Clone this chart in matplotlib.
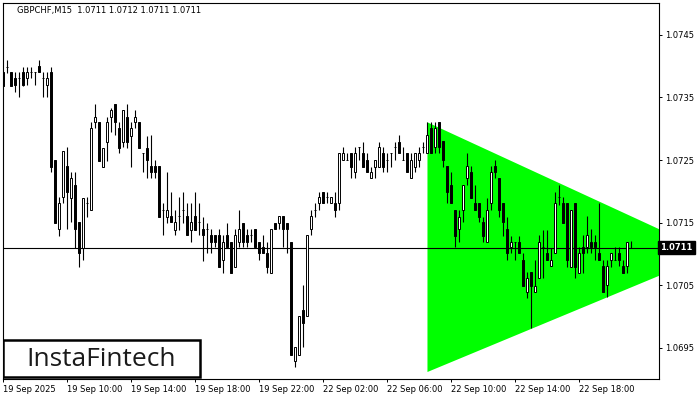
import matplotlib
matplotlib.use("Agg")
import matplotlib.pyplot as plt
import matplotlib.patches as patches
import numpy as np

# GBPCHF M15 bars, 19 Sep 06:00 .. 22 Sep 21:15 (one entry per bar)
opens = [
    1.07391, 1.07399, 1.07391, 1.07381, 1.07381, 1.07391, 1.07381, 1.07391, 1.07391, 1.07400,
    1.07381, 1.07370, 1.07391, 1.07250, 1.07140, 1.07191, 1.07240, 1.07189, 1.07210, 1.07151,
    1.07109, 1.07181, 1.07170, 1.07311, 1.07311, 1.07239, 1.07279, 1.07319, 1.07340, 1.07301,
    1.07279, 1.07319, 1.07288, 1.07311, 1.07311, 1.07261, 1.07269, 1.07240, 1.07240, 1.07240,
    1.07170, 1.07159, 1.07160, 1.07138, 1.07160, 1.07170, 1.07160, 1.07138, 1.07160, 1.07151,
    1.07140, 1.07140, 1.07130, 1.07130, 1.07130, 1.07090, 1.07130, 1.07119, 1.07079, 1.07119,
    1.07149, 1.07130, 1.07130, 1.07140, 1.07119, 1.07111, 1.07101, 1.07069, 1.07149, 1.07149,
    1.07160, 1.07149, 1.07119, 1.06928, 1.06938, 1.07010, 1.07000, 1.07140, 1.07170, 1.07181,
    1.07199, 1.07191, 1.07181, 1.07181, 1.07181, 1.07250, 1.07250, 1.07261, 1.07231, 1.07271,
    1.07261, 1.07250, 1.07221, 1.07239, 1.07239, 1.07261, 1.07250, 1.07261, 1.07271, 1.07279,
    1.07250, 1.07261, 1.07221, 1.07239, 1.07250, 1.07271, 1.07261, 1.07301, 1.07271, 1.07311,
    1.07280, 1.07240, 1.07210, 1.07170, 1.07140, 1.07170, 1.07221, 1.07231, 1.07181, 1.07181,
    1.07151, 1.07119, 1.07181, 1.07240, 1.07221, 1.07181, 1.07140, 1.07111, 1.07119, 1.07119,
    1.07090, 1.07039, 1.07071, 1.07039, 1.07061, 1.07111, 1.07101, 1.07080, 1.07101, 1.07191,
    1.07181, 1.07181, 1.07079, 1.07181, 1.07069, 1.07111, 1.07111, 1.07119, 1.07119, 1.07101,
    1.07080, 1.07050, 1.07090, 1.07090, 1.07101, 1.07080, 1.07080, 1.07110,
]
highs = [
    1.07391, 1.07410, 1.07391, 1.07391, 1.07391, 1.07399, 1.07399, 1.07399, 1.07391, 1.07410,
    1.07391, 1.07391, 1.07399, 1.07250, 1.07191, 1.07264, 1.07271, 1.07231, 1.07231, 1.07151,
    1.07189, 1.07191, 1.07311, 1.07340, 1.07311, 1.07269, 1.07319, 1.07333, 1.07340, 1.07311,
    1.07330, 1.07340, 1.07311, 1.07330, 1.07311, 1.07261, 1.07288, 1.07290, 1.07250, 1.07240,
    1.07181, 1.07231, 1.07199, 1.07170, 1.07191, 1.07199, 1.07181, 1.07181, 1.07199, 1.07181,
    1.07159, 1.07149, 1.07140, 1.07130, 1.07140, 1.07130, 1.07149, 1.07119, 1.07140, 1.07170,
    1.07149, 1.07140, 1.07140, 1.07140, 1.07119, 1.07130, 1.07119, 1.07140, 1.07149, 1.07160,
    1.07160, 1.07149, 1.07119, 1.06951, 1.07000, 1.07050, 1.07130, 1.07170, 1.07181, 1.07199,
    1.07199, 1.07199, 1.07191, 1.07199, 1.07261, 1.07271, 1.07261, 1.07261, 1.07271, 1.07271,
    1.07279, 1.07261, 1.07239, 1.07250, 1.07279, 1.07271, 1.07261, 1.07261, 1.07279, 1.07290,
    1.07271, 1.07261, 1.07261, 1.07261, 1.07271, 1.07279, 1.07311, 1.07311, 1.07311, 1.07311,
    1.07280, 1.07240, 1.07231, 1.07170, 1.07170, 1.07210, 1.07261, 1.07240, 1.07210, 1.07181,
    1.07159, 1.07189, 1.07240, 1.07250, 1.07221, 1.07181, 1.07159, 1.07128, 1.07119, 1.07128,
    1.07101, 1.07071, 1.07071, 1.07090, 1.07130, 1.07138, 1.07138, 1.07109, 1.07199, 1.07210,
    1.07191, 1.07181, 1.07170, 1.07181, 1.07111, 1.07130, 1.07160, 1.07140, 1.07130, 1.07181,
    1.07090, 1.07090, 1.07101, 1.07111, 1.07111, 1.07090, 1.07119, 1.07120,
]
lows = [
    1.07368, 1.07389, 1.07368, 1.07359, 1.07351, 1.07368, 1.07370, 1.07381, 1.07370, 1.07391,
    1.07351, 1.07351, 1.07231, 1.07149, 1.07128, 1.07181, 1.07140, 1.07151, 1.07109, 1.07079,
    1.07090, 1.07159, 1.07170, 1.07301, 1.07248, 1.07239, 1.07248, 1.07295, 1.07290, 1.07261,
    1.07271, 1.07269, 1.07239, 1.07301, 1.07269, 1.07231, 1.07221, 1.07221, 1.07221, 1.07159,
    1.07130, 1.07149, 1.07151, 1.07130, 1.07138, 1.07149, 1.07130, 1.07119, 1.07138, 1.07130,
    1.07088, 1.07101, 1.07101, 1.07111, 1.07079, 1.07069, 1.07111, 1.07069, 1.07079, 1.07111,
    1.07111, 1.07111, 1.07119, 1.07111, 1.07090, 1.07101, 1.07069, 1.07069, 1.07140, 1.07140,
    1.07111, 1.07101, 1.06938, 1.06919, 1.06938, 1.06951, 1.07000, 1.07130, 1.07159, 1.07170,
    1.07181, 1.07181, 1.07181, 1.07159, 1.07170, 1.07250, 1.07250, 1.07221, 1.07221, 1.07250,
    1.07239, 1.07231, 1.07221, 1.07221, 1.07239, 1.07231, 1.07231, 1.07239, 1.07250, 1.07261,
    1.07250, 1.07231, 1.07221, 1.07231, 1.07239, 1.07261, 1.07261, 1.07261, 1.07261, 1.07261,
    1.07239, 1.07181, 1.07181, 1.07111, 1.07119, 1.07151, 1.07210, 1.07189, 1.07170, 1.07151,
    1.07119, 1.07119, 1.07170, 1.07221, 1.07159, 1.07128, 1.07090, 1.07101, 1.07090, 1.07101,
    1.07048, 1.07029, 1.06981, 1.07039, 1.07061, 1.07061, 1.07090, 1.07080, 1.07101, 1.07178,
    1.07149, 1.07079, 1.07079, 1.07061, 1.07069, 1.07069, 1.07101, 1.07101, 1.07090, 1.07090,
    1.07039, 1.07031, 1.07079, 1.07090, 1.07080, 1.07069, 1.07069, 1.07110,
]
closes = [
    1.07368, 1.07399, 1.07368, 1.07370, 1.07381, 1.07370, 1.07391, 1.07391, 1.07391, 1.07391,
    1.07381, 1.07381, 1.07239, 1.07149, 1.07181, 1.07264, 1.07199, 1.07221, 1.07140, 1.07101,
    1.07189, 1.07181, 1.07301, 1.07319, 1.07248, 1.07269, 1.07311, 1.07330, 1.07311, 1.07269,
    1.07330, 1.07279, 1.07301, 1.07319, 1.07269, 1.07261, 1.07250, 1.07231, 1.07231, 1.07159,
    1.07170, 1.07170, 1.07151, 1.07151, 1.07160, 1.07170, 1.07130, 1.07151, 1.07138, 1.07151,
    1.07130, 1.07140, 1.07119, 1.07119, 1.07079, 1.07119, 1.07111, 1.07069, 1.07130, 1.07140,
    1.07119, 1.07119, 1.07130, 1.07111, 1.07101, 1.07101, 1.07079, 1.07140, 1.07140, 1.07160,
    1.07140, 1.07140, 1.06938, 1.06951, 1.07000, 1.06989, 1.07130, 1.07160, 1.07170, 1.07191,
    1.07181, 1.07191, 1.07191, 1.07170, 1.07261, 1.07261, 1.07250, 1.07239, 1.07261, 1.07271,
    1.07239, 1.07231, 1.07231, 1.07250, 1.07271, 1.07239, 1.07250, 1.07261, 1.07271, 1.07261,
    1.07250, 1.07231, 1.07250, 1.07261, 1.07261, 1.07271, 1.07290, 1.07261, 1.07301, 1.07271,
    1.07250, 1.07199, 1.07181, 1.07128, 1.07159, 1.07210, 1.07240, 1.07189, 1.07170, 1.07159,
    1.07128, 1.07170, 1.07231, 1.07231, 1.07170, 1.07151, 1.07101, 1.07119, 1.07119, 1.07101,
    1.07048, 1.07061, 1.07048, 1.07048, 1.07119, 1.07111, 1.07090, 1.07090, 1.07181, 1.07191,
    1.07149, 1.07090, 1.07170, 1.07079, 1.07101, 1.07101, 1.07130, 1.07111, 1.07111, 1.07090,
    1.07039, 1.07080, 1.07101, 1.07090, 1.07090, 1.07069, 1.07119, 1.07110,
]

# bullish symmetrical triangle (bar index of left edge / right edge of view)
tri_x = [105.9, 163.9]
tri_upper = [1.07311, 1.07140]
tri_lower = [1.06912, 1.07066]

last_price = 1.0711
price_ticks = [1.0695, 1.0705, 1.0715, 1.0725, 1.0735, 1.0745]
time_tick_bars = [0, 16, 32, 48, 64, 80, 96, 112, 128, 144]
time_labels = ['19 Sep 2025', '19 Sep 10:00', '19 Sep 14:00', '19 Sep 18:00', '19 Sep 22:00',
               '22 Sep 02:00', '22 Sep 06:00', '22 Sep 10:00', '22 Sep 14:00', '22 Sep 18:00']
header = 'GBPCHF,M15  1.0711 1.0712 1.0711 1.0711'

o = np.array(opens)
h = np.array(highs)
l = np.array(lows)
c = np.array(closes)
x = np.arange(len(o))

fig = plt.figure(figsize=(7, 4), dpi=100)
ax = fig.add_axes([3/700, 21/400, 656/700, 376/400])

# pattern
ax.fill_between(tri_x, tri_lower, tri_upper, color='#00FF00', linewidth=0, zorder=1)

# current price line
ax.axhline(last_price, color='black', linewidth=0.8, zorder=2)

# candles
ax.vlines(x, l, h, color='black', linewidth=0.8, zorder=3)
up = c >= o
body_bottom = np.minimum(o, c)
body_height = np.abs(c - o)
face = np.where(up, 'white', 'black')
ax.bar(x, body_height, bottom=body_bottom, width=0.55, color=face,
       edgecolor='black', linewidth=0.7, zorder=4)

ax.set_xlim(-0.08, 163.9)
ax.set_ylim(1.06900, 1.07501)

ax.yaxis.tick_right()
ax.set_yticks(price_ticks)
ax.set_yticklabels([f'{p:.4f}' for p in price_ticks])
ax.set_xticks(time_tick_bars)
ax.set_xticklabels(time_labels)
for lab in ax.get_xticklabels():
    lab.set_horizontalalignment('left')
ax.tick_params(axis='both', direction='out', length=2.5, width=0.7,
               labelsize=6, pad=2, colors='black')
for s in ax.spines.values():
    s.set_linewidth(0.8)

# last price tag
ax.text(1.0015, last_price, '1.0711', transform=ax.get_yaxis_transform(),
        ha='left', va='center', fontsize=6, color='white', fontweight='bold',
        bbox=dict(facecolor='black', edgecolor='black', pad=1.6), zorder=10,
        clip_on=False)

fig.text(17/700, 1 - 10/400, header, fontsize=6, va='center', ha='left')

# logo
logo = patches.Rectangle((0.0, 0.005), 0.300, 0.099, transform=ax.transAxes,
                         facecolor='white', edgecolor='black', linewidth=1.8, zorder=8)
ax.add_patch(logo)
ax.text(0.150, 0.052, 'InstaFintech', transform=ax.transAxes, ha='center', va='center',
        fontsize=19, family='Open Sans', color='#1a1a1a', zorder=9)

fig.savefig('out.png', dpi=100)
